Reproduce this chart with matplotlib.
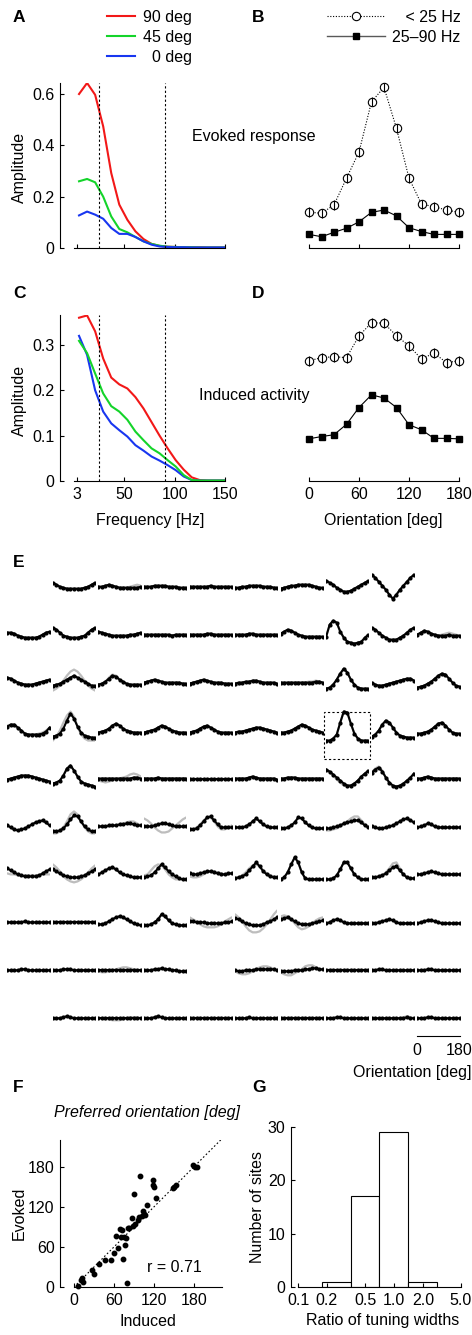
import numpy as np
import matplotlib
matplotlib.use("Agg")
import matplotlib.pyplot as plt
from matplotlib.lines import Line2D
from matplotlib.patches import Rectangle

plt.rcParams['font.family'] = ['Liberation Sans', 'DejaVu Sans']
FS = 11.5
plt.rcParams['font.size'] = FS

W, H = 472, 1335

# ---- A / C : amplitude spectra ----
freq = [5, 13, 21, 29, 37, 45, 53, 61, 69, 77, 85, 93, 101, 109, 117, 125, 133, 141, 149]
evoked_90 = [0.60, 0.643, 0.597, 0.474, 0.292, 0.169, 0.110, 0.065, 0.035, 0.016, 0.008, 0.005,
             0.004, 0.003, 0.003, 0.003, 0.002, 0.002, 0.002]
evoked_45 = [0.26, 0.269, 0.256, 0.200, 0.123, 0.074, 0.061, 0.043, 0.026, 0.016, 0.009, 0.005,
             0.004, 0.003, 0.003, 0.002, 0.002, 0.002, 0.002]
evoked_0 = [0.127, 0.142, 0.130, 0.114, 0.078, 0.055, 0.055, 0.043, 0.026, 0.013, 0.006, 0.004,
            0.003, 0.003, 0.002, 0.002, 0.002, 0.002, 0.002]
induced_90 = [0.36, 0.365, 0.33, 0.27, 0.228, 0.213, 0.204, 0.185, 0.16, 0.13, 0.10, 0.072,
              0.046, 0.025, 0.008, 0.002, 0.001, 0.001, 0.001]
induced_45 = [0.309, 0.282, 0.237, 0.193, 0.165, 0.153, 0.135, 0.109, 0.090, 0.072, 0.061, 0.046,
              0.032, 0.013, 0.002, 0.001, 0.001, 0.001, 0.001]
induced_0 = [0.32, 0.278, 0.20, 0.153, 0.127, 0.112, 0.098, 0.079, 0.067, 0.054, 0.045, 0.035,
             0.024, 0.010, 0.002, 0.001, 0.001, 0.001, 0.001]
band_edges = [25, 90]

# ---- B / D : orientation tuning ----
ori = [0, 15, 30, 45, 60, 75, 90, 105, 120, 135, 150, 165, 180]
ev_low = [0.140, 0.135, 0.168, 0.272, 0.374, 0.570, 0.626, 0.466, 0.272, 0.171, 0.161, 0.148, 0.139]
ev_gamma = [0.053, 0.044, 0.061, 0.077, 0.102, 0.139, 0.148, 0.125, 0.079, 0.064, 0.053, 0.053, 0.053]
in_low = [0.265, 0.272, 0.274, 0.272, 0.320, 0.349, 0.348, 0.320, 0.298, 0.269, 0.282, 0.261, 0.265]
in_gamma = [0.093, 0.098, 0.102, 0.125, 0.162, 0.190, 0.183, 0.162, 0.124, 0.113, 0.094, 0.094, 0.093]
ev_err = 0.018
in_err = 0.011

# ---- E : tuning curves per site (px above row baseline), None = no site ----
tune_r0 = [None,
           [4, 2, 0, -1, -2, -2, -2, -2, -2, -1, 0, 2, 4],
           [0, 0, 1, 2, 1, 0, -1, -1, -1, -1, -1, -1, 0],
           [0, 0, 0, 1, 1, 1, 1, 0, 0, 0, -1, -1, -1],
           [0, 0, 0, 0, 0, 0, 1, 0, 0, 0, 0, 0, 0],
           [-1, -1, 0, 0, 1, 1, 1, 1, 0, 0, 0, -1, -1],
           [-2, -1, 0, 1, 1, 2, 2, 2, 2, 1, 0, -1, -1],
           [6, 4, 2, -1, -3, -5, -5, -4, -2, 0, 2, 4, 6],
           [12, 9, 5, 1, -3, -8, -12, -8, -3, 1, 5, 9, 12],
           None]
fit_r0 = {2: [0, 0, 1, 2, 1, 0, -1, -1, -1, 0, 1, 2, 1]}
tune_r1 = [[2, 2, 1, -1, -2, -3, -3, -3, -3, -2, 0, 2, 3],
           [7, 5, 2, -1, -2, -3, -3, -3, -2, -1, 2, 5, 7],
           [3, 2, 1, 0, -1, -1, -1, -1, -1, 0, 0, 1, 2],
           [0, 0, 0, 0, 0, 0, 0, 0, -1, 0, 0, 0, 0],
           [0, 0, 0, 0, 0, 1, 1, 0, 0, 0, 0, 0, 0],
           [0, 0, 0, 0, 1, 1, 0, 0, 0, 0, 0, 0, 0],
           [1, 3, 5, 4, 2, 0, -1, -2, -2, -2, -2, -2, -2],
           [-2, 10, 14, 12, 3, -3, -7, -8, -9, -8, -7, -3, 0],
           [7, 5, 2, -1, -3, -5, -5, -5, -3, -1, 2, 5, 7],
           [0, 2, 4, 3, 1, 0, -1, -1, -1, 0, -1, -1, -1]]
fit_r1 = {9: [0, 2, 4, 3, 1, 0, -1, 0, 1, 2, 1, 0, -1]}
tune_r2 = [[5, 4, 2, 0, -1, -2, -2, -2, -1, 0, 1, 2, 3],
           [-3, -2, -1, 1, 3, 5, 7, 5, 3, 1, -1, -3, -3],
           [-2, -1, 1, 4, 7, 6, 3, 1, -1, -2, -2, -2, -2],
           [0, 1, 2, 3, 2, 1, 0, 0, 0, 0, 0, -1, -1],
           [-1, 0, 1, 2, 3, 2, 1, 0, 0, 0, -1, -1, -1],
           [-1, 0, 0, 1, 1, 2, 2, 1, 0, 0, 0, 0, -1],
           [0, 0, 0, 0, 0, 0, 0, 0, 0, 0, 1, 1, 0],
           [-6, -5, -2, 3, 9, 14, 10, 3, -2, -5, -6, -6, -6],
           [0, -2, -3, -3, -2, -1, 0, 1, 2, 3, 4, 4, 2],
           [-5, -4, -3, -1, 1, 4, 7, 9, 8, 4, 0, -3, -4]]
fit_r2 = {1: [-8, -6, -3, 2, 7, 11, 13, 11, 7, 2, -3, -6, -8],
          2: [-2, -1, 1, 5, 8, 7, 3, 0, -2, -2, -2, -2, -2],
          5: [-3, -2, -1, 0, 1, 2, 2, 1, 0, 0, 0, 0, -1],
          6: [-1, -1, 0, 0, 0, 0, 0, 0, 1, 1, 2, 1, 0]}
tune_r3 = [[4, 6, 6, 3, 0, -3, -4, -4, -4, -4, -3, -1, 3],
           [-6, -5, -3, 2, 10, 17, 12, 4, -2, -5, -6, -7, -7],
           [-2, -1, 0, 2, 5, 7, 5, 2, 0, -1, -2, -2, -2],
           [-2, -1, 0, 1, 3, 5, 4, 2, 0, -1, -2, -2, -2],
           [-2, -1, 0, 2, 4, 5, 3, 1, -1, -2, -2, -2, -2],
           [-2, -1, -1, 0, 1, 2, 3, 3, 2, 1, 0, -1, -2],
           [-2, -2, -1, 0, 2, 4, 6, 5, 3, 1, 0, -1, -2],
           [-10, -10, -8, -4, 8, 19, 18, 7, -3, -8, -10, -10, -10],
           [-6, -4, 0, 6, 10, 8, 3, -2, -5, -6, -7, -7, -7],
           [-3, -3, -2, -1, 1, 4, 7, 8, 5, 1, -2, -3, -3]]
fit_r3 = {0: [5, 6, 5, 2, -1, -3, -4, -4, -4, -3, -2, 0, 3],
          1: [-10, -6, 0, 8, 15, 19, 14, 4, -4, -8, -10, -10, -10]}
tune_r4 = [[-1, 0, 1, 2, 3, 3, 3, 2, 1, 0, -1, -2, -3],
           [-5, -4, -2, 3, 10, 13, 8, 2, -3, -5, -6, -7, -8],
           [0, 0, 0, 0, 0, 0, 0, 0, 0, 0, 1, 1, 0],
           [0, 0, 0, 0, 1, 0, 0, 0, 0, 0, 0, 0, 0],
           [0, 0, 0, 0, 0, 0, 0, 0, 0, 0, 0, 0, 0],
           [0, 0, 0, 0, 1, 2, 1, 0, 0, 0, 0, 0, -1],
           [0, 0, 1, 1, 1, 0, 0, 0, 0, 0, 0, 0, 0],
           [9, 7, 4, 1, -2, -5, -7, -7, -5, -2, 2, 5, 8],
           [6, 9, 11, 7, 1, -4, -7, -8, -7, -5, -2, 1, 5],
           [0, 0, 1, 2, 1, 0, 0, 0, 0, 0, 0, 0, 0]]
fit_r4 = {2: [-2, -3, -4, -3, -2, -1, 0, 1, 2, 4, 5, 4, 2],
          7: [9, 6, 3, -1, -4, -7, -8, -7, -5, -2, 2, 5, 8],
          8: [6, 10, 12, 8, 1, -5, -8, -9, -8, -6, -3, 1, 5]}
tune_r5 = [[1, -1, -3, -4, -3, -2, 0, 2, 4, 5, 6, 4, 1],
           [-5, -5, -4, -2, 2, 7, 11, 10, 5, 0, -3, -5, -5],
           [0, 0, 0, 1, 1, 1, 2, 2, 3, 3, 2, 1, 1],
           [0, 0, 0, 1, 2, 3, 3, 2, 1, 0, 0, 0, 0],
           [-3, -3, -2, 1, 5, 9, 10, 6, 2, -1, -1, -1, -1],
           [-1, -1, -1, 0, 2, 5, 8, 5, 2, 0, -1, -1, -1],
           [-2, -2, -1, 1, 4, 9, 8, 4, 1, -1, -2, -2, -2],
           [-2, -2, -1, 0, 1, 3, 4, 5, 6, 6, 4, 1, -1],
           [0, -1, -2, -2, -1, 0, 1, 3, 5, 7, 8, 6, 4],
           [-1, 0, 1, 3, 2, 0, -1, -1, -1, -1, -1, -1, -1]]
fit_r5 = {1: [-7, -7, -5, -1, 5, 12, 15, 12, 5, -1, -5, -7, -7],
          2: [0, 0, 0, 0, 1, 1, 2, 3, 4, 5, 5, 3, 1],
          3: [8, 6, 3, -1, -4, -6, -6, -5, -2, 1, 4, 7, 9],
          4: [-4, -3, -1, 2, 6, 9, 9, 5, 0, -3, -3, -1, 1],
          7: [-4, -4, -3, -2, 0, 2, 5, 8, 10, 10, 6, 2, -1]}
tune_r6 = [[6, 4, 2, 0, -1, -2, -2, -2, -2, -1, 1, 3, 5],
           [5, 3, 1, -1, -2, -3, -3, -3, -2, -1, 1, 3, 5],
           [0, 2, 4, 6, 7, 5, 2, 0, -1, -2, -3, -3, -3],
           [-3, -2, -1, 2, 6, 10, 7, 3, 0, -2, -4, -5, -5],
           [1, 0, 0, 1, 2, 3, 3, 2, 1, 0, 0, 1, 1],
           [-4, -3, -2, 0, 4, 8, 12, 8, 3, 0, -2, -3, -3],
           [-5, -3, 2, 10, 17, 12, 2, -4, -5, -5, -5, -5, -5],
           [-5, -5, -4, -1, 5, 12, 12, 6, 0, -3, -5, -5, -5],
           [-3, -3, -2, -1, 1, 4, 7, 8, 4, 0, -3, -4, -4],
           [0, 0, 1, 2, 3, 2, 1, 0, 0, 0, 0, 0, 0]]
fit_r6 = {0: [1, 0, 0, -1, -1, -1, -1, -1, -1, -1, 0, 0, 0],
          1: [10, 7, 3, -2, -5, -7, -8, -7, -5, -2, 2, 6, 9],
          3: [-1, 0, 4, 8, 10, 9, 5, 0, -3, -5, -5, -5, -5],
          4: [-2, -3, -3, -2, 0, 2, 3, 3, 2, 1, 0, 0, 1],
          5: [-3, -3, -1, 2, 6, 9, 10, 8, 4, 1, -1, -2, -3],
          8: [-3, -3, -2, -1, 2, 6, 11, 12, 6, 0, -3, -4, -4]}
tune_r7 = [[0, 0, 0, 0, 0, 1, 0, 0, 0, 0, 0, 0, 0],
           [0, 0, 0, 0, 0, 0, 0, 0, 0, 0, 0, 0, 0],
           [-2, -2, -1, 1, 3, 5, 6, 5, 3, 1, -1, -2, -3],
           [-3, -3, -2, 0, 3, 8, 6, 2, -1, -2, -3, -3, -3],
           [1, 1, 0, 0, 0, -1, -1, -1, -1, -1, 0, 0, 1],
           [4, 3, 1, -1, -2, -3, -3, -3, -2, 0, 1, 3, 5],
           [3, 4, 5, 3, 1, -1, -2, -2, -2, -1, 0, 1, 2],
           [-1, 0, 2, 3, 2, 0, -1, -1, -1, -1, -1, -1, -1],
           [-1, -1, 0, 1, 2, 3, 2, 0, -1, -1, -1, -1, -1],
           [-1, 0, 1, 2, 2, 1, 0, -1, -1, -1, -1, -1, -1]]
fit_r7 = {4: [5, 3, 1, -2, -4, -5, -5, -5, -4, -2, 1, 3, 5],
          5: [8, 5, 1, -4, -8, -10, -10, -9, -6, -2, 3, 8, 12],
          6: [6, 7, 6, 3, -1, -5, -7, -6, -4, -1, 2, 4, 5]}
tune_r8 = [[0, 0, 0, 0, 1, 1, 0, 0, 0, 0, 0, 0, 0],
           [0, 0, 0, 1, 1, 1, 0, 0, 0, 0, 0, 0, 0],
           [0, 0, 0, 0, 0, 0, 0, 0, 0, 0, 0, 0, 0],
           [0, 0, 0, 1, 1, 2, 1, 1, 0, 0, -1, -1, -1],
           None,
           [0, -1, -1, 0, 0, 0, 1, 1, 1, 1, 1, 1, 0],
           [-1, -1, -1, -1, 0, 0, 0, 1, 1, 2, 2, 1, 1],
           [0, 0, 0, 0, 0, 0, 0, 0, 0, 0, 0, 0, 0],
           [0, 0, 1, 1, 0, 0, 0, 0, 0, 0, 0, 0, 0],
           [0, 0, 0, 1, 1, 0, 0, 0, 0, 0, 0, 0, 0]]
fit_r8 = {2: [-1, -2, -2, -1, 0, 1, 2, 3, 3, 2, 1, 0, 0],
          5: [-1, -3, -4, -4, -3, -1, 1, 3, 4, 4, 3, 1, 0],
          6: [-2, -4, -5, -5, -3, -1, 1, 4, 5, 5, 3, 1, 0]}
tune_r9 = [None,
           [0, 0, 0, 1, 2, 1, 0, 0, 0, 0, 0, 0, 0],
           [0, 0, 0, 0, 0, 0, 0, 0, 0, 0, 0, 0, 0],
           [0, 0, 0, 1, 2, 1, 0, 0, 0, 0, 0, 0, 0],
           [0, 0, 0, 0, 0, 0, 0, 0, 0, 0, 0, 0, 0],
           [0, 0, 0, 0, 1, 0, 0, 0, 0, 0, 0, 0, 0],
           [0, 0, 0, 0, 0, 0, 0, 0, 0, 0, 0, 0, 0],
           [0, 0, 0, 1, 1, 0, 0, 0, 0, 0, 0, 0, 0],
           [0, 0, 0, 0, 0, 0, 0, 0, 0, 0, 1, 0, 0],
           [0, 0, 0, 1, 1, 0, 0, 0, 0, 0, 0, 0, 0]]
fit_r9 = {2: [0, 0, -1, -1, -2, -2, -2, -1, 0, 1, 1, 1, 0],
          8: [0, 0, 0, 0, 0, 0, 0, 0, 0, 1, 2, 1, 0]}
tune_rows = [tune_r0, tune_r1, tune_r2, tune_r3, tune_r4, tune_r5, tune_r6, tune_r7, tune_r8, tune_r9]
fit_rows = [fit_r0, fit_r1, fit_r2, fit_r3, fit_r4, fit_r5, fit_r6, fit_r7, fit_r8, fit_r9]
boxed_site = (3, 7)

# ---- F : preferred orientation, induced vs evoked ----
pref_induced = [6.6, 10, 11.6, 13.6, 26.8, 30, 38, 47, 55.6, 59.6, 63, 65.7, 69.7, 70.7, 72, 74,
                75.8, 75, 78, 79, 81, 83, 87, 88, 90, 91, 96, 98.5, 97.5, 102.5, 103.5, 104.5,
                106, 110, 118.7, 118.7, 120, 123.7, 148, 150.5, 153, 179, 182, 184]
pref_evoked = [1, 11, 13, 7, 25, 20, 35, 41, 41, 51, 77, 59, 87, 75, 86, 42,
               63, 75, 74, 6, 88, 88, 103, 92, 139, 94, 100, 166, 105, 107, 113, 109,
               108, 123, 160, 152, 150, 133, 148, 150, 152, 182, 180, 180]
r_value = 0.71

# ---- G : ratio of tuning widths ----
ratio_edges = [0.177, 0.354, 0.707, 1.414, 2.828]
ratio_counts = [1, 17, 29, 1]

red, green, blue = '#f21818', '#14d42a', '#1836f0'

fig = plt.figure(figsize=(W / 100, H / 100), dpi=100)


def px_axes(left, top, width, height):
    return fig.add_axes([left / W, 1 - (top + height) / H, width / W, height / H])


def px_text(x, y, s, **kw):
    kw.setdefault('ha', 'center')
    kw.setdefault('va', 'center')
    kw.setdefault('fontsize', FS)
    fig.text(x / W, 1 - y / H, s, **kw)


def matlab_axes(ax, offset=10):
    ax.spines['top'].set_visible(False)
    ax.spines['right'].set_visible(False)
    ax.spines['left'].set_position(('outward', offset))
    for s in ['left', 'bottom']:
        ax.spines[s].set_linewidth(0.8)
    ax.tick_params(direction='in', length=3, width=0.8, labelsize=FS)
    ax.tick_params(axis='x', pad=4.5)
    ax.tick_params(axis='y', pad=4)


def orient_axes(ax, labels):
    for s in ['top', 'right', 'left']:
        ax.spines[s].set_visible(False)
    ax.spines['bottom'].set_linewidth(0.8)
    ax.set_yticks([])
    ax.set_xlim(0, 180)
    ax.set_xticks([0, 60, 120, 180])
    ax.tick_params(direction='in', length=3, width=0.8, labelsize=FS, pad=4.5)
    if not labels:
        ax.set_xticklabels([])


def tuning_pair(ax, low, gamma, err):
    ax.plot(ori, low, ls=(0, (1, 1.5)), color='k', lw=0.8, marker='o', ms=6,
            mfc='white', mec='k', mew=0.8, clip_on=False, zorder=2)
    ax.errorbar(ori, low, yerr=err, fmt='none', ecolor='k', elinewidth=0.8,
                capsize=0, clip_on=False, zorder=3)
    ax.plot(ori, gamma, '-s', color='k', lw=0.8, ms=5, clip_on=False)


# ---------- A ----------
axA = px_axes(74, 83, 151, 165)
lA = []
for vals, col, lab in [(evoked_90, red, '90 deg'), (evoked_45, green, '45 deg'), (evoked_0, blue, '  0 deg')]:
    lA.append(axA.plot(freq, vals, color=col, lw=1.5, label=lab)[0])
for f in band_edges:
    axA.axvline(f, color='k', ls=(0, (2, 2)), lw=0.8)
axA.set_xlim(0, 150)
axA.set_ylim(0, 0.643)
axA.set_yticks([0, 0.2, 0.4, 0.6])
axA.set_yticklabels(['0', '0.2', '0.4', '0.6'])
axA.set_xticks([3, 50, 100, 150])
axA.set_xticklabels([])
matlab_axes(axA)
axA.legend(handles=lA, loc='upper left', bbox_to_anchor=(107 / W, 1 - 10 / H),
           bbox_transform=fig.transFigure, frameon=False, borderpad=0, borderaxespad=0,
           handlelength=1.75, handletextpad=0.5, labelspacing=0.3, fontsize=FS)

# ---------- C ----------
axC = px_axes(74, 315, 151, 166)
for vals, col in [(induced_90, red), (induced_0, blue), (induced_45, green)]:
    axC.plot(freq, vals, color=col, lw=1.5)
for f in band_edges:
    axC.axvline(f, color='k', ls=(0, (2, 2)), lw=0.8)
axC.set_xlim(0, 150)
axC.set_ylim(0, 0.366)
axC.set_yticks([0, 0.1, 0.2, 0.3])
axC.set_yticklabels(['0', '0.1', '0.2', '0.3'])
axC.set_xticks([3, 50, 100, 150])
axC.set_xticklabels(['3', '50', '100', '150'])
matlab_axes(axC)

# ---------- B ----------
axB = px_axes(309, 83, 150, 165)
tuning_pair(axB, ev_low, ev_gamma, ev_err)
axB.set_ylim(0, 0.643)
orient_axes(axB, False)
hB1 = Line2D([], [], color='k', ls=(0, (1, 1.5)), lw=0.8, marker='o', ms=6, mfc='white', mew=0.8)
hB2 = Line2D([], [], color='0.35', ls='-', lw=1.0, marker='s', ms=5, mfc='k', mec='k')
axB.legend([hB1, hB2], ['   < 25 Hz', '25\u201390 Hz'], loc='upper left',
           bbox_to_anchor=(327 / W, 1 - 10 / H), bbox_transform=fig.transFigure,
           frameon=False, borderpad=0, borderaxespad=0, handlelength=3.6,
           handletextpad=0.5, labelspacing=0.3, fontsize=FS, numpoints=1)

# ---------- D ----------
axD = px_axes(309, 315, 150, 166)
tuning_pair(axD, in_low, in_gamma, in_err)
axD.set_ylim(0, 0.366)
orient_axes(axD, True)

px_text(254, 137, 'Evoked response')
px_text(254, 395, 'Induced activity')
px_text(19, 167, 'Amplitude', rotation=90)
px_text(19, 400, 'Amplitude', rotation=90)
px_text(150, 520, 'Frequency [Hz]')
px_text(383, 520, 'Orientation [deg]')

# ---------- E ----------
col_step, row_step = 45.55, 47.95
for r, (row, fits) in enumerate(zip(tune_rows, fit_rows)):
    yc = 586.7 + row_step * r
    for c, vals in enumerate(row):
        if vals is None:
            continue
        ax = px_axes(7.3 + col_step * c, yc - 22, 42.3, 44)
        fit = fits.get(c, vals)
        ax.plot(ori, fit, color='0.74', lw=1.6, solid_capstyle='round')
        ax.plot(ori, vals, color='k', lw=1.5, marker='o', ms=2.0)
        ax.set_xlim(0, 180)
        ax.set_ylim(-22, 22)
        ax.axis('off')
        if (r, c) == boxed_site:
            ax.add_patch(Rectangle((-0.04, -0.14), 1.08, 1.07, transform=ax.transAxes,
                                   fill=False, ec='k', lw=0.8, ls=(0, (2, 2)), clip_on=False))

# scale bar
axS = px_axes(7.3 + col_step * 9, 1024, 42.3, 12)
for s in ['top', 'right', 'left']:
    axS.spines[s].set_visible(False)
axS.spines['bottom'].set_linewidth(0.8)
axS.set_xlim(0, 180)
axS.set_yticks([])
axS.set_xticks([0, 180])
axS.tick_params(length=0, pad=5, labelsize=FS)
axS.patch.set_visible(False)
px_text(412, 1073, 'Orientation [deg]')

# ---------- F ----------
axF = px_axes(74, 1140, 148, 147)
axF.plot([0, 222], [0, 222], color='k', ls=(0, (1.5, 2)), lw=0.8)
axF.plot(pref_induced, pref_evoked, 'o', color='k', ms=3.2, clip_on=False)
axF.set_xlim(0, 222)
axF.set_ylim(0, 220)
axF.set_xticks([0, 60, 120, 180])
axF.set_yticks([0, 60, 120, 180])
matlab_axes(axF)
px_text(147, 1113, 'Preferred orientation [deg]', style='italic')
px_text(174, 1267, 'r = %.2f' % r_value)
px_text(19, 1213, 'Evoked', rotation=90)
px_text(148, 1322, 'Induced')

# ---------- G ----------
axG = px_axes(298, 1127, 163, 160)
axG.bar(ratio_edges[:-1], ratio_counts, width=np.diff(ratio_edges), align='edge',
        color='white', edgecolor='k', lw=0.8)
axG.set_xscale('log')
axG.set_xlim(0.1, 5.0)
axG.set_ylim(0, 30)
axG.set_xticks([0.1, 0.2, 0.5, 1, 2, 5])
axG.set_xticklabels(['0.1', '0.2', '0.5', '1.0', '2.0', '5.0'])
axG.xaxis.set_minor_locator(matplotlib.ticker.NullLocator())
axG.set_yticks([0, 10, 20, 30])
matlab_axes(axG, offset=5)
px_text(257, 1207, 'Number of sites', rotation=90)
px_text(383, 1320, 'Ratio of tuning widths')

# panel letters
for letter, x, y in [('A', 13, 18), ('B', 252, 18), ('C', 13, 293), ('D', 252, 293),
                     ('E', 13, 562), ('F', 13, 1087), ('G', 252, 1087)]:
    px_text(x, y, letter, ha='left', fontsize=12.5, fontweight='bold')

fig.savefig('out.png', dpi=100)
